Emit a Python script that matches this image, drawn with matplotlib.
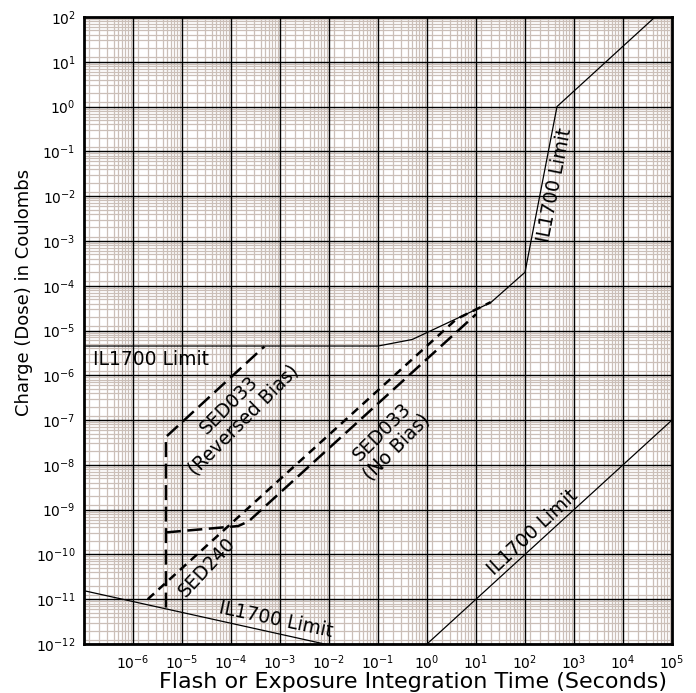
import matplotlib
matplotlib.use("Agg")
import matplotlib.pyplot as plt
from matplotlib.ticker import LogLocator, FixedLocator, NullFormatter

plt.rcParams['font.family'] = ['DejaVu Sans']

# ---- data (time in seconds, charge in coulombs) ----
il_upper_t = [1e-7, 0.1, 0.5, 20, 100, 450, 4.5e4]
il_upper_q = [4.5e-6, 4.5e-6, 6.3e-6, 4.2e-5, 2e-4, 1.0, 100]

il_lower_t = [1e-7, 1e-2]
il_lower_q = [1.55e-11, 9.5e-13]

il_diag_t = [1, 1e5]
il_diag_q = [1e-12, 1e-7]

sed033r_t = [4.7e-6, 4.7e-6, 4.8e-4]
sed033r_q = [6.5e-12, 4.2e-8, 4.4e-6]

sed033n_t = [4.7e-6, 1.4e-4, 2.3e-4, 10]
sed033n_q = [3.1e-10, 4.3e-10, 5.5e-10, 2.3e-5]

sed240_t = [2e-6, 4, 20]
sed240_q = [1e-11, 1.8e-5, 4.3e-5]

x_ticks = [1e-6, 1e-5, 1e-4, 1e-3, 1e-2, 1e-1, 1e0, 1e1, 1e2, 1e3, 1e4, 1e5]
y_ticks = [10.0 ** k for k in range(-12, 3)]

fig = plt.figure(figsize=(6.96, 6.93), dpi=100)
ax = fig.add_axes([84/696, 49/693, 588/696, 627/693])
ax.set_xscale('log')
ax.set_yscale('log')
ax.set_xlim(1e-7, 1e5)
ax.set_ylim(1e-12, 1e2)

minor_subs = [1.25, 2, 3, 4, 5, 6, 7, 8, 9]
ax.xaxis.set_minor_locator(LogLocator(base=10, subs=minor_subs, numticks=100))
ax.yaxis.set_minor_locator(LogLocator(base=10, subs=minor_subs, numticks=100))
ax.xaxis.set_minor_formatter(NullFormatter())
ax.yaxis.set_minor_formatter(NullFormatter())
ax.xaxis.set_major_locator(FixedLocator(x_ticks))
ax.yaxis.set_major_locator(FixedLocator(y_ticks))

ax.grid(which='minor', color='#cbbfb8', linewidth=0.9)
ax.set_axisbelow(True)
# major grid drawn above the minor grid
for xt in x_ticks:
    ax.axvline(xt, color='black', linewidth=1.0, zorder=1.5)
for yt in y_ticks:
    ax.axhline(yt, color='black', linewidth=1.0, zorder=1.5)

ax.tick_params(which='both', length=0)
ax.tick_params(axis='x', labelsize=10, pad=7)
ax.tick_params(axis='y', labelsize=10, pad=6)
for s in ax.spines.values():
    s.set_linewidth(2.0)
    s.set_zorder(6)

# solid limit lines
for t, q in [(il_upper_t, il_upper_q), (il_lower_t, il_lower_q), (il_diag_t, il_diag_q)]:
    ax.plot(t, q, color='black', linewidth=0.9, zorder=3)

# dashed device lines
ax.plot(sed033r_t, sed033r_q, color='black', linewidth=1.8, dashes=(6, 2.6), zorder=4)
ax.plot(sed033n_t, sed033n_q, color='black', linewidth=1.8, dashes=(6, 2.6), zorder=4)
ax.plot(sed240_t, sed240_q, color='black', linewidth=1.8, dashes=(3.4, 2.4), zorder=4)

def place(px, py, text, rot, size=13.5, ha='center', va='center', ls=1.15):
    fig.text(px / 696, 1 - py / 693, text, rotation=rot, rotation_mode='anchor',
             ha=ha, va=va, fontsize=size, linespacing=ls, zorder=5)

# labels
place(93, 360, 'IL1700 Limit', 0, ha='left')
place(555, 185, 'IL1700 Limit', 79)
place(276, 620, 'IL1700 Limit', -12)
place(533, 532, 'IL1700 Limit', 43)
place(236, 413, 'SED033\n(Reversed Bias)', 45)
place(389, 440, 'SED033\n(No Bias)', 45)
place(207, 567, 'SED240', 47)

# axis titles
fig.text(413 / 696, 1 - 682 / 693, 'Flash or Exposure Integration Time (Seconds)',
         ha='center', va='center', fontsize=16)
fig.text(24 / 696, 1 - 292 / 693, 'Charge (Dose) in Coulombs',
         ha='center', va='center', rotation=90, fontsize=13)

fig.savefig('out.png', dpi=100)
